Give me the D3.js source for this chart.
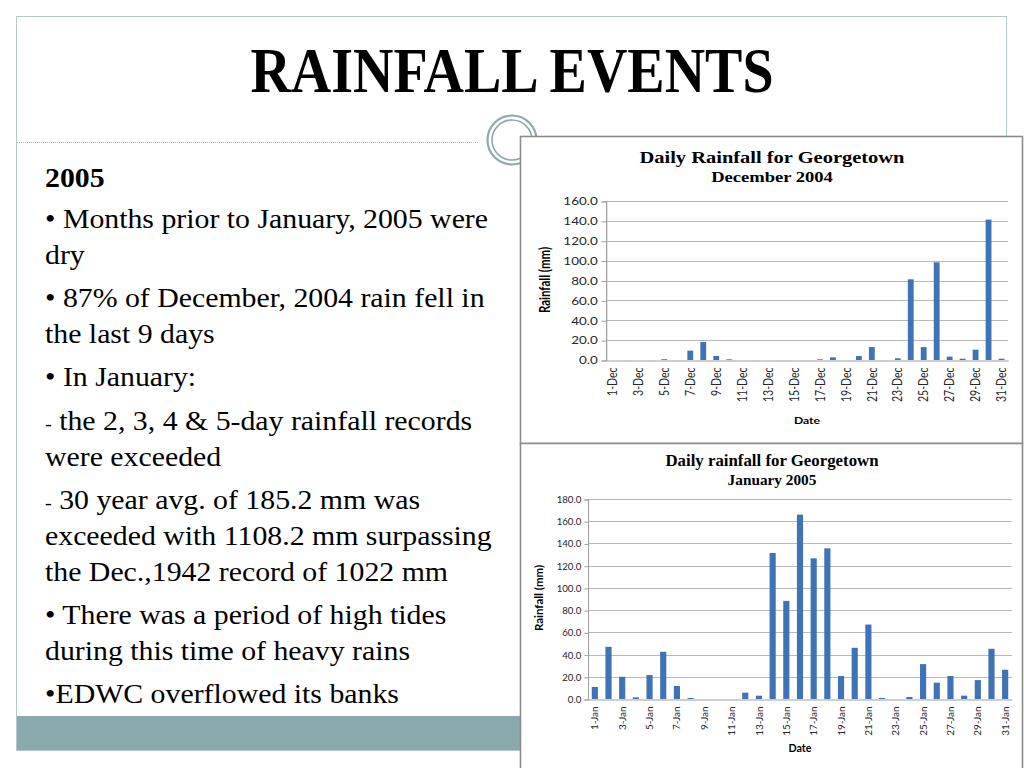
<!DOCTYPE html>
<html>
<head>
<meta charset="utf-8">
<script src="https://cdn.jsdelivr.net/npm/d3@7"></script>
<style>
  html, body { margin: 0; padding: 0; background: #fff; }
  svg { display: block; }
</style>
</head>
<body>
<script>
// rainfall slide: two Excel-style bar charts beside a bullet list

var decDays = [1,2,3,4,5,6,7,8,9,10,11,12,13,14,15,16,17,18,19,20,21,22,23,24,25,26,27,28,29,30,31];
var decRain = [0,0,0,0,0.8,0,9.4,18.1,4.0,0.7,0,0,0,0,0,0,0.7,2.7,0,4.0,13.0,0,1.7,81.2,13.0,98.3,3.4,1.3,10.4,141.3,1.3];
var decTicks = [0,20,40,60,80,100,120,140,160];

var janDays = [1,2,3,4,5,6,7,8,9,10,11,12,13,14,15,16,17,18,19,20,21,22,23,24,25,26,27,28,29,30,31];
var janRain = [10.8,47.0,20.0,1.5,21.6,42.5,11.7,0.9,0,0,0,5.7,3.0,131.4,88.3,165.9,126.6,135.6,20.7,46.1,67.0,0.9,0,1.8,31.4,14.7,20.7,3.0,17.0,45.2,26.3];
var janTicks = [0,20,40,60,80,100,120,140,160,180];

var bulletLines = [
  {t: "2005", bold: true},
  {t: "\u2022 Months prior to January, 2005 were"},
  {t: "dry"},
  {t: "\u2022 87% of December, 2004 rain fell in"},
  {t: "the last 9 days"},
  {t: "\u2022 In January:"},
  {t: " the 2, 3, 4 & 5-day rainfall records", dash: true},
  {t: "were exceeded"},
  {t: " 30 year avg. of 185.2 mm was", dash: true},
  {t: "exceeded with 1108.2 mm surpassing"},
  {t: "the Dec.,1942 record of 1022 mm"},
  {t: "\u2022 There was a period of high tides"},
  {t: "during this time of heavy rains"},
  {t: "\u2022EDWC overflowed its banks"}
];
var bulletY = [187, 228, 264, 307, 343, 386, 430, 466, 509, 545, 581, 624, 660, 703];

var W = 1024, H = 768;
var serif = "'Liberation Serif', 'Times New Roman', serif";
var sans = "Lato, 'Open Sans', sans-serif";
var barColor = "#3f73b6";

var svg = d3.select("body").append("svg").attr("width", W).attr("height", H);

// slide frame
svg.append("rect").attr("x", 16.5).attr("y", 16.5).attr("width", 990).attr("height", 734)
  .attr("fill", "#fff").attr("stroke", "#b4c8ca").attr("stroke-width", 1);
svg.append("rect").attr("x", 17).attr("y", 716).attr("width", 989).attr("height", 34)
  .attr("fill", "#8aabad");

svg.append("line").attr("x1", 17).attr("x2", 479).attr("y1", 142.5).attr("y2", 142.5)
  .attr("stroke", "#a9bcbd").attr("stroke-dasharray", "1,1");

var ring = svg.append("g").attr("transform", "translate(512,140)");
ring.append("circle").attr("r", 24.5).attr("fill", "#fff").attr("stroke", "#8eaaab").attr("stroke-width", 2.2);
ring.append("circle").attr("r", 20).attr("fill", "none").attr("stroke", "#8eaaab").attr("stroke-width", 1.6);

svg.append("text").attr("x", 512).attr("y", 0)
  .attr("transform", "translate(0,92) scale(1,1.12)")
  .attr("text-anchor", "middle").attr("font-family", serif).attr("font-weight", "bold")
  .attr("font-size", 56).attr("fill", "#000").text("RAINFALL EVENTS");

// left bullet text (slightly wide, like the slide)
var txt = svg.append("g").attr("transform", "translate(45,0) scale(1.065,1)");
bulletLines.forEach(function(l, i) {
  var t = txt.append("text").attr("x", 0).attr("y", bulletY[i])
    .attr("font-family", serif).attr("font-size", 28).attr("fill", "#000")
    .attr("font-weight", l.bold ? "bold" : "normal");
  if (l.dash) t.append("tspan").attr("font-size", 19).text("-");
  t.append("tspan").text(l.t);
});

// the pasted chart pictures are stretched sideways, so draw each in a
// local frame and scale it by sx
function drawChart(cfg) {
  svg.append("rect").attr("x", cfg.box[0] + 0.5).attr("y", cfg.box[1] + 0.5)
    .attr("width", cfg.box[2]).attr("height", cfg.box[3])
    .attr("fill", "#fff").attr("stroke", "#8c8c8c").attr("stroke-width", 1.6);

  var sx = cfg.sx;
  var lx = function(v) { return (v - cfg.box[0]) / sx; };
  var g = svg.append("g").attr("transform", "translate(" + cfg.box[0] + ",0) scale(" + sx + ",1)");

  var x0 = lx(cfg.plot[0]), x1 = lx(cfg.plot[1]);
  var cx = lx(cfg.box[0] + cfg.box[2] / 2 + 1);
  g.append("text").attr("x", cx).attr("y", cfg.titleY).attr("text-anchor", "middle")
    .attr("font-family", serif).attr("font-weight", "bold").attr("font-size", cfg.titleSize).text(cfg.title);
  g.append("text").attr("x", cx).attr("y", cfg.titleY + 19).attr("text-anchor", "middle")
    .attr("font-family", serif).attr("font-weight", "bold").attr("font-size", cfg.subSize).text(cfg.subtitle);

  var x = d3.scaleBand().domain(cfg.days).range([x0, x1]).paddingInner(0.55).paddingOuter(0.275);
  var y = d3.scaleLinear().domain([0, d3.max(cfg.ticks)]).range([cfg.plot[3], cfg.plot[2]]);

  g.append("g").selectAll("line").data(cfg.ticks.slice(1)).join("line")
    .attr("x1", x0).attr("x2", x1)
    .attr("y1", function(d) { return Math.round(y(d)) + 0.5; })
    .attr("y2", function(d) { return Math.round(y(d)) + 0.5; })
    .attr("stroke", "#b9b9b9").attr("stroke-width", 1);

  var ya = d3.axisLeft(y).tickValues(cfg.ticks).tickSize(3.5).tickPadding(3)
    .tickFormat(d3.format(".1f"));
  var yg = g.append("g").attr("transform", "translate(" + x0 + ",0.5)").call(ya);
  yg.selectAll("path, line").attr("stroke", "#a0a0a0");
  yg.selectAll("text").attr("font-family", sans).attr("font-size", cfg.tickSize).attr("fill", "#262626");

  g.append("g").selectAll("rect").data(cfg.values).join("rect")
    .attr("x", function(d, i) { return x(cfg.days[i]); })
    .attr("width", x.bandwidth())
    .attr("y", function(d) { return y(d); })
    .attr("height", function(d) { return cfg.plot[3] - y(d); })
    .attr("fill", barColor);

  var xa = d3.axisBottom(x).tickSize(0).tickPadding(0)
    .tickValues(cfg.days.filter(function(d) { return d % 2 === 1; }))
    .tickFormat(function(d) { return d + "-" + cfg.month; });
  var xg = g.append("g").attr("transform", "translate(0," + (cfg.plot[3] + 0.5) + ")").call(xa);
  xg.select("path").attr("stroke", "#a0a0a0");
  xg.selectAll("text").attr("font-family", sans).attr("font-size", cfg.xTickSize).attr("fill", "#262626")
    .attr("text-anchor", "end").attr("dy", "0.35em")
    .attr("transform", "translate(0,7) rotate(-90)");

  g.append("text").attr("x", (x0 + x1) / 2).attr("y", cfg.dateY)
    .attr("text-anchor", "middle").attr("font-family", sans).attr("font-weight", "bold")
    .attr("font-size", cfg.dateSize).text("Date");
  g.append("text").attr("transform", "translate(" + lx(cfg.ylabX) + "," + cfg.ylabY + ") rotate(-90)")
    .attr("text-anchor", "middle").attr("font-family", sans).attr("font-weight", "bold")
    .attr("font-size", cfg.ylabSize).text("Rainfall (mm)");
}

drawChart({
  box: [520, 136, 502, 307], plot: [606, 1008, 201, 360], sx: 1.28,
  title: "Daily Rainfall  for Georgetown", subtitle: "December 2004", titleY: 163,
  titleSize: 16, subSize: 14.5, tickSize: 10.5, xTickSize: 10.5, dateSize: 9.5, ylabSize: 11.5,
  days: decDays, values: decRain, ticks: decTicks, month: "Dec",
  dateY: 424, ylabX: 550, ylabY: 280
});

drawChart({
  box: [520, 443, 502, 330], plot: [588, 1012, 499, 699], sx: 1.02,
  title: "Daily rainfall  for Georgetown", subtitle: "January 2005", titleY: 466,
  titleSize: 16.5, subSize: 15, tickSize: 9.5, xTickSize: 10, dateSize: 10.5, ylabSize: 11.5,
  days: janDays, values: janRain, ticks: janTicks, month: "Jan",
  dateY: 752, ylabX: 543, ylabY: 598
});
</script>
</body>
</html>
